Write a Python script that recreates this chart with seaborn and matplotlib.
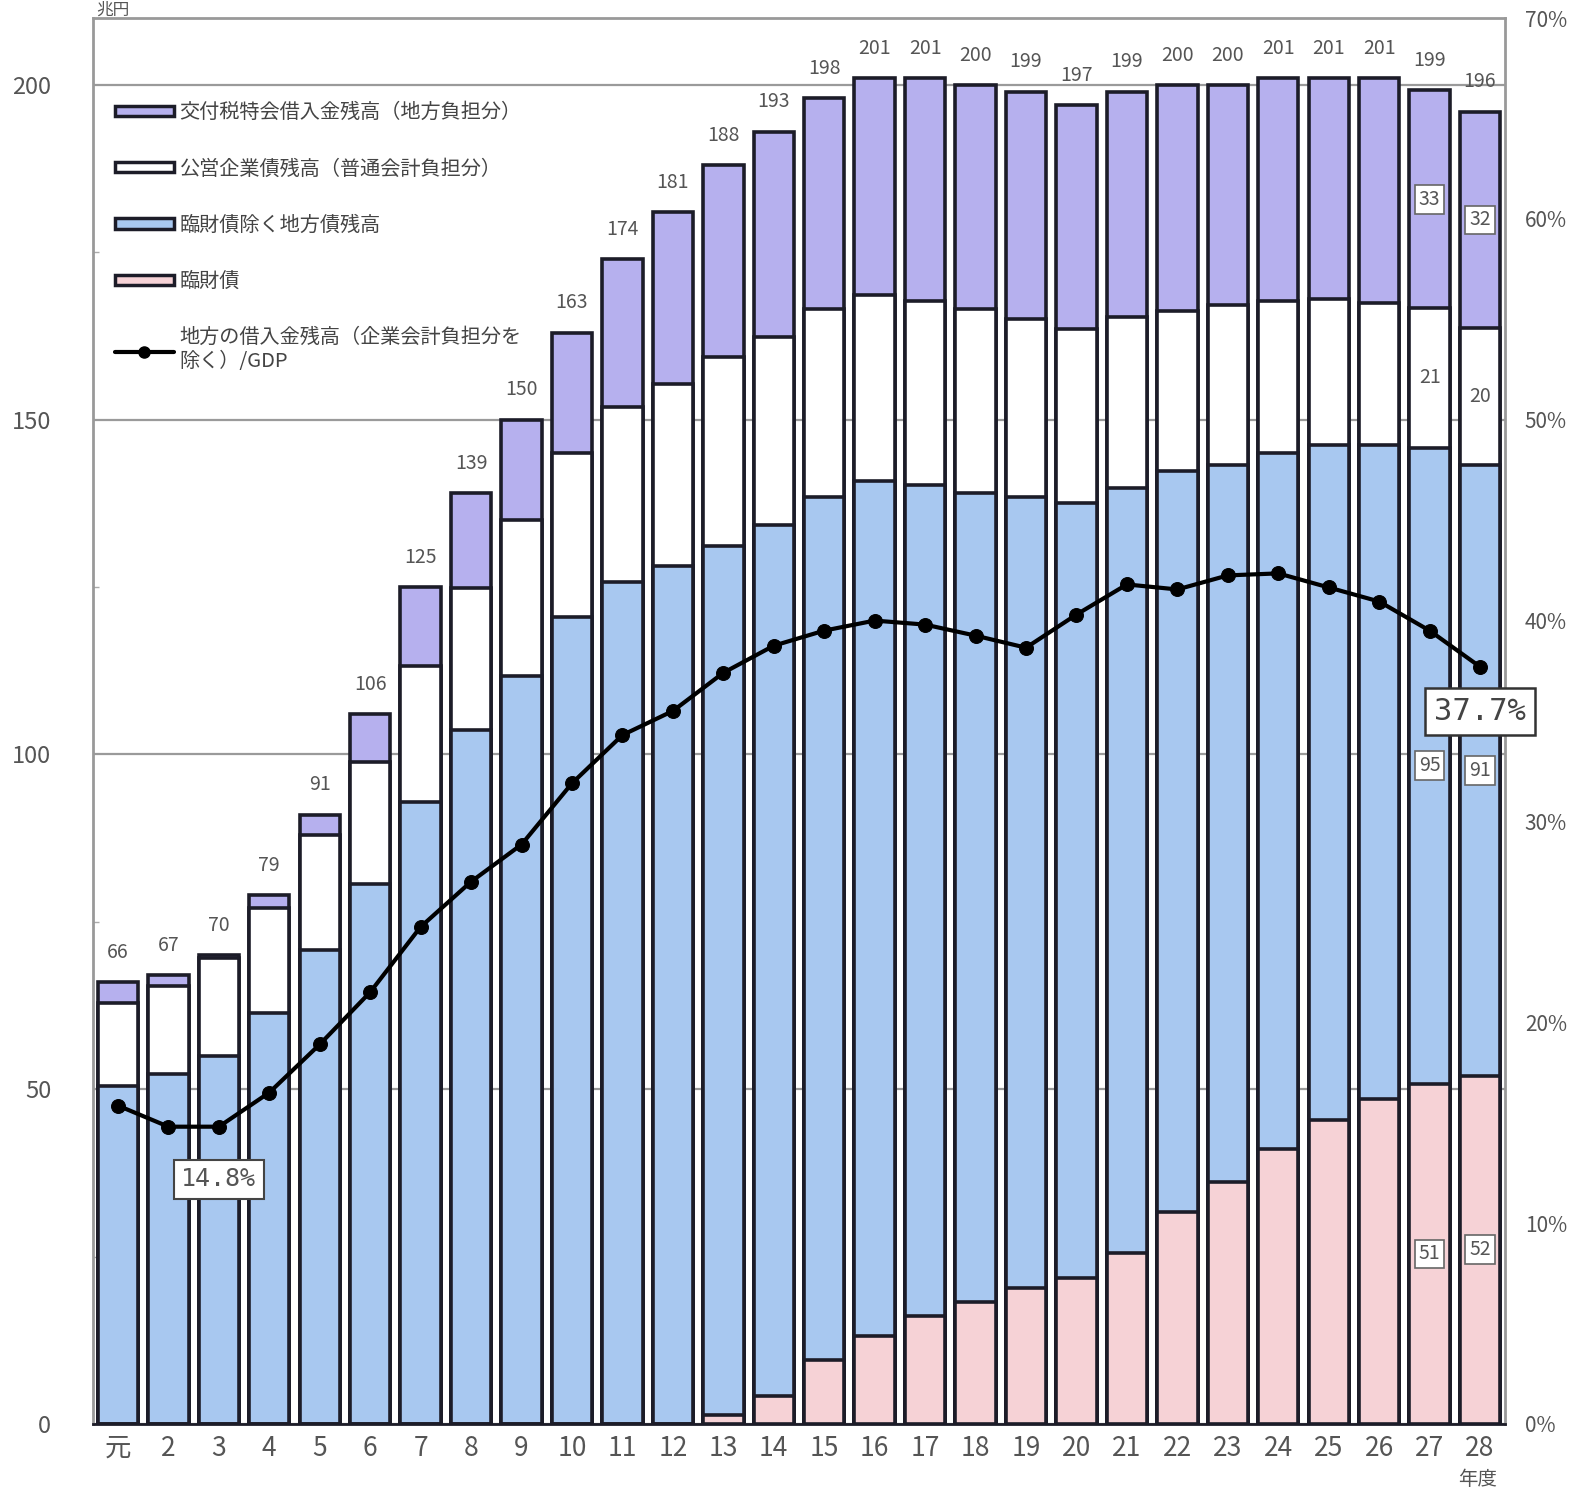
import numpy as np
import pandas as pd
import matplotlib
matplotlib.use("Agg")
import matplotlib.pyplot as plt
from matplotlib.patches import Patch
from matplotlib.lines import Line2D
from matplotlib.ticker import FuncFormatter, MultipleLocator
import seaborn as sns

# fiscal years (Heisei), 元 = first year
years = ["元", "2", "3", "4", "5", "6", "7", "8", "9", "10", "11", "12", "13", "14",
         "15", "16", "17", "18", "19", "20", "21", "22", "23", "24", "25", "26", "27", "28"]

# stacked components (兆円), bottom to top
rinzai = [0, 0, 0, 0, 0, 0, 0, 0, 0, 0, 0, 0, 1.3, 4.2,
          9.5, 13.1, 16.1, 18.2, 20.3, 21.8, 25.6, 31.6, 36.2, 41.1, 45.4, 48.6, 50.8, 52.0]
chihousai = [50.5, 52.3, 55.0, 61.4, 70.8, 80.6, 92.9, 103.6, 111.7, 120.5, 125.7, 128.1, 129.8, 130.1,
             129.0, 127.7, 124.2, 120.9, 118.2, 115.8, 114.2, 110.8, 107.1, 103.9, 100.9, 97.7, 95.0, 91.3]
koei = [12.4, 13.1, 14.6, 15.7, 17.2, 18.3, 20.3, 21.2, 23.3, 24.6, 26.2, 27.2, 28.3, 28.1,
        28.0, 27.8, 27.5, 27.4, 26.5, 26.0, 25.5, 23.9, 23.8, 22.7, 21.7, 21.2, 20.9, 20.4]
kofuzei = [3.1, 1.6, 0.4, 1.9, 3.0, 7.1, 11.8, 14.2, 15.0, 17.9, 22.1, 25.7, 28.6, 30.6,
           31.5, 32.4, 33.2, 33.5, 34.0, 33.4, 33.7, 33.7, 32.9, 33.3, 33.0, 33.5, 32.5, 32.3]
totals = [66, 67, 70, 79, 91, 106, 125, 139, 150, 163, 174, 181, 188, 193,
          198, 201, 201, 200, 199, 197, 199, 200, 200, 201, 201, 201, 199, 196]

# 地方の借入金残高 / GDP (%)
gdp_ratio = [15.85, 14.8, 14.8, 16.5, 18.9, 21.5, 24.75, 27.0, 28.85, 31.9, 34.3, 35.5, 37.4, 38.75,
             39.5, 40.0, 39.8, 39.25, 38.65, 40.3, 41.8, 41.55, 42.25, 42.35, 41.65, 40.95, 39.5, 37.7]

# segment labels shown for the last two years
seg_labels = {26: [51, 95, 21, 33], 27: [52, 91, 20, 32]}

legend_labels = ["交付税特会借入金残高（地方負担分）",
                 "公営企業債残高（普通会計負担分）",
                 "臨財債除く地方債残高",
                 "臨財債",
                 "地方の借入金残高（企業会計負担分を\n除く）/GDP"]

c_purple = "#b6b0ee"
c_white = "#ffffff"
c_blue = "#a8c8f0"
c_pink = "#f6d2d6"
edge = "#1c1c28"
gray = "#555555"

sns.set_theme(style="white")
plt.rcParams['font.family'] = ['Noto Sans CJK JP', 'DejaVu Sans']

df = pd.DataFrame({"year": years, "rinzai": rinzai, "chihousai": chihousai,
                   "koei": koei, "kofuzei": kofuzei, "ratio": gdp_ratio})
df["c1"] = df["rinzai"]
df["c2"] = df["c1"] + df["chihousai"]
df["c3"] = df["c2"] + df["koei"]
df["c4"] = df["c3"] + df["kofuzei"]

fig = plt.figure(figsize=(15.8, 14.94), dpi=100)
ax = fig.add_axes([0.0587, 0.0469, 0.894, 0.941])

for col, color in [("c4", c_purple), ("c3", c_white), ("c2", c_blue), ("c1", c_pink)]:
    sns.barplot(data=df, x="year", y=col, order=years, color=color, saturation=1,
                edgecolor=edge, linewidth=2.6, width=0.8, ax=ax, zorder=3)

ax.set_xlim(-0.5, len(years) - 0.5)
ax.set_ylim(0, 210)
ax.set_yticks([0, 50, 100, 150, 200])
ax.yaxis.set_minor_locator(MultipleLocator(25))
ax.grid(axis="y", color="#9a9a9a", linewidth=1.6, zorder=0)
ax.set_axisbelow(True)
ax.set_xlabel("")
ax.set_ylabel("")
ax.tick_params(axis="y", labelsize=17, labelcolor=gray, length=0, pad=30)
ax.tick_params(axis="y", which="minor", length=4, color="#aaaaaa", direction="in")
ax.tick_params(axis="x", labelsize=19, labelcolor=gray, length=0, pad=8)
for s in ["top", "left", "right"]:
    ax.spines[s].set_color("#999999")
    ax.spines[s].set_linewidth(2)
ax.spines["bottom"].set_color(edge)
ax.spines["bottom"].set_linewidth(2)

# totals above bars
for i, t in enumerate(totals):
    ax.annotate(str(t), (i, df["c4"][i]), xytext=(0, 14), textcoords="offset points",
                ha="center", va="bottom", fontsize=14, color=gray, zorder=6)

# segment values for last years
box = dict(boxstyle="square,pad=0.2", facecolor="white", edgecolor="#666666", linewidth=1.2)
for i, vals in seg_labels.items():
    bounds = [0, df["c1"][i], df["c2"][i], df["c3"][i], df["c4"][i]]
    for k, v in enumerate(vals):
        mid = (bounds[k] + bounds[k + 1]) / 2
        ax.text(i, mid, str(v), ha="center", va="center", fontsize=14, color=gray,
                bbox=None if k == 2 else box, zorder=6)

fig.text(0.061, 0.999, "兆円", ha="left", va="top", fontsize=12, color=gray)
fig.text(0.935, 0.003, "年度", ha="center", va="bottom", fontsize=14, color=gray)

# GDP ratio on right axis
ax2 = ax.twinx()
ax2.set_position(ax.get_position())
sns.lineplot(x=np.arange(len(years)), y=np.array(gdp_ratio) / 100, color="black",
             linewidth=3, marker="o", markersize=10, markeredgecolor="black", ax=ax2, zorder=5)
ax2.set_ylim(0, 0.70)
ax2.set_yticks(np.arange(0, 0.71, 0.1))
ax2.yaxis.set_major_formatter(FuncFormatter(lambda v, p: f"{v*100:.0f}%"))
ax2.tick_params(axis="y", labelsize=15, labelcolor=gray, length=0, pad=14)
ax2.grid(False)
for s in ax2.spines.values():
    s.set_visible(False)

ax2.annotate("14.8%", (2, gdp_ratio[2] / 100), xytext=(0, -38), textcoords="offset points",
             ha="center", va="center", fontsize=18, color=gray, family="DejaVu Sans Mono",
             bbox=dict(boxstyle="square,pad=0.3", facecolor="white", edgecolor="#444444", linewidth=1.5))
ax2.annotate("37.7%", (27, gdp_ratio[27] / 100), xytext=(0, -32), textcoords="offset points",
             ha="center", va="center", fontsize=22, color="#444444", family="DejaVu Sans Mono",
             bbox=dict(boxstyle="square,pad=0.3", facecolor="white", edgecolor="#333333", linewidth=1.8))

handles = [Patch(facecolor=c_purple, edgecolor=edge, linewidth=2.5),
           Patch(facecolor=c_white, edgecolor=edge, linewidth=2.5),
           Patch(facecolor=c_blue, edgecolor=edge, linewidth=2.5),
           Patch(facecolor=c_pink, edgecolor=edge, linewidth=2.5),
           Line2D([], [], color="black", linewidth=3, marker="o", markersize=8)]
leg = ax2.legend(handles, legend_labels, loc="upper left", bbox_to_anchor=(0.003, 0.953),
                 frameon=False, fontsize=14.5, handlelength=2.9, handleheight=0.4,
                 labelspacing=1.75, handletextpad=0.3)
for t in leg.get_texts():
    t.set_color("#444444")

fig.savefig("out.png", dpi=100, facecolor="white")
